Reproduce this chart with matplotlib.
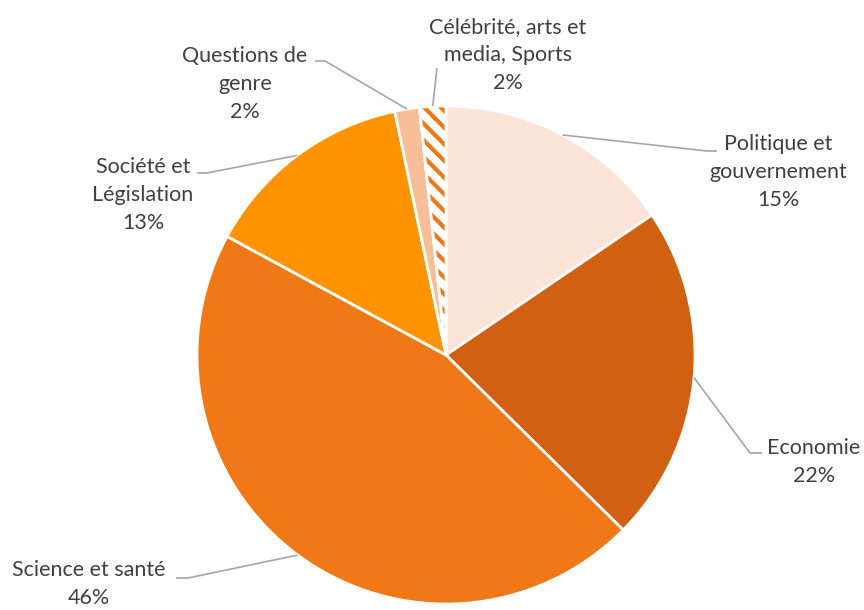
import numpy as np
import matplotlib
matplotlib.use("Agg")
import matplotlib.pyplot as plt
from matplotlib.patches import Wedge

# =====================================================
# DATA
# =====================================================

categories = [
    "Politique et\ngouvernement",
    "Economie",
    "Science et santé",
    "Société et\nLégislation",
    "Questions de\ngenre",
    "Célébrité, arts et\nmedia, Sports",
]
shares = [15.5, 21.9, 45.5, 13.8, 1.6, 1.7]
pct_labels = ["15%", "22%", "46%", "13%", "2%", "2%"]

colors = ["#FCE4D6", "#D26012", "#F07816", "#FF9400", "#F8BE96", "#FFFFFF"]
hatch_color = "#F07816"

# =====================================================
# LAYOUT (pixel space, y measured from top)
# =====================================================

W, H = 864, 610
CX, CY, R = 446, 355, 249

def flip(y):
    return H - y

# label centres and leader elbows
label_pos = [(778, 172), (814, 462), (89, 584), (143, 195), (245, 84), (508, 55)]
elbows = [
    [(707, 151), (717, 151)],
    [(750, 453), (762, 453)],
    [(188, 578), (176, 578)],
    [(207, 173), (197, 173)],
    [(325, 61), (315, 61)],
    [(437, 68)],
]

plt.rcParams["font.family"] = ["Lato", "DejaVu Sans"]
plt.rcParams["hatch.linewidth"] = 3.0

fig = plt.figure(figsize=(W / 100, H / 100), dpi=100)
ax = fig.add_axes([0, 0, 1, 1])

wedges, _ = ax.pie(
    shares,
    colors=colors,
    startangle=90,
    counterclock=False,
    radius=R,
    center=(CX, flip(CY)),
    wedgeprops=dict(edgecolor="white", linewidth=2.0),
)

# hatched slice (Célébrité)
hw = wedges[-1]
ax.add_patch(Wedge(hw.center, hw.r, hw.theta1, hw.theta2,
                   facecolor="white", edgecolor=hatch_color,
                   hatch="\\\\", linewidth=0, zorder=hw.get_zorder() + 0.1))
ax.add_patch(Wedge(hw.center, hw.r, hw.theta1, hw.theta2,
                   fill=False, edgecolor="white", linewidth=2.0,
                   zorder=hw.get_zorder() + 0.2))

# leader lines + labels
for w, cat, pct, (tx, ty), elb in zip(wedges, categories, pct_labels, label_pos, elbows):
    mid = np.deg2rad((w.theta1 + w.theta2) / 2)
    sx = CX + R * np.cos(mid)
    sy = flip(CY) + R * np.sin(mid)
    xs = [sx] + [p[0] for p in elb]
    ys = [sy] + [flip(p[1]) for p in elb]
    ax.plot(xs, ys, color="#A6A6A6", linewidth=1.2, solid_capstyle="butt", zorder=5)
    ax.text(tx, flip(ty), cat + "\n" + pct, ha="center", va="center",
            multialignment="center", fontsize=15.5, color="#404040",
            linespacing=1.5, zorder=6)

ax.set_xlim(0, W)
ax.set_ylim(0, H)
ax.set_aspect("equal")
ax.axis("off")

fig.savefig("out.png", dpi=100)
